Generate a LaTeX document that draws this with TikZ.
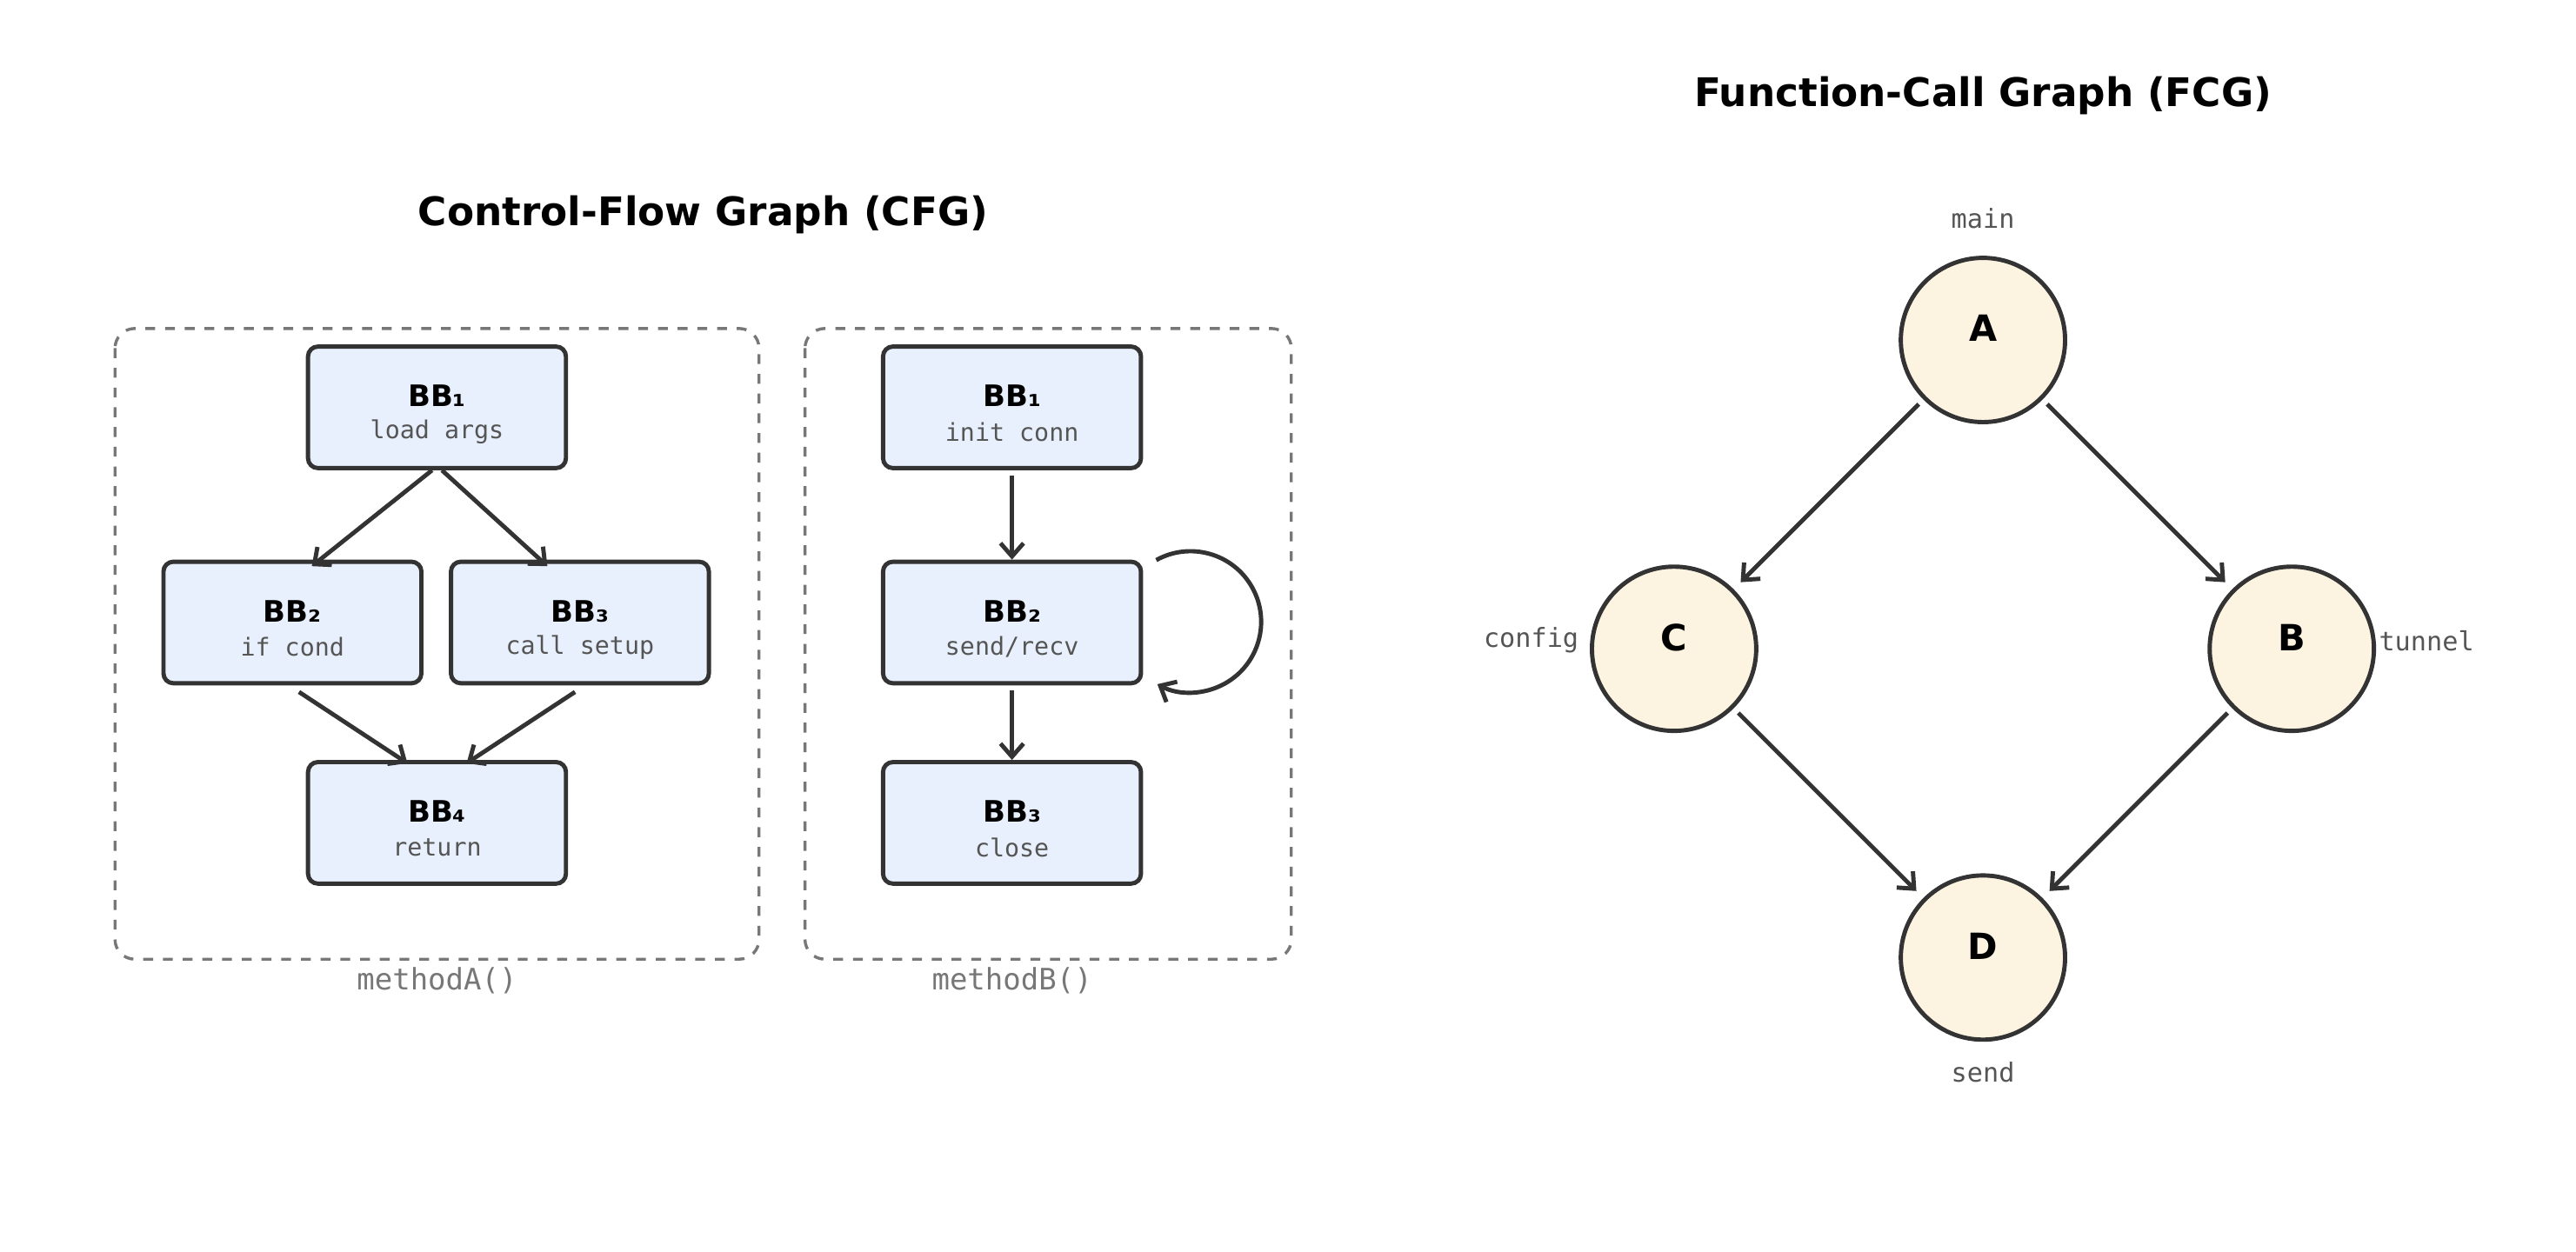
\documentclass[tikz,border=0pt]{standalone}
\usepackage{fontspec}
\setmainfont{DejaVu Sans}
\setmonofont{DejaVu Sans Mono}
\usetikzlibrary{arrows.meta}
\definecolor{bbfill}{HTML}{E8F0FD}
\definecolor{cfill}{HTML}{FDF3E1}
\definecolor{dk}{HTML}{333333}
\definecolor{gr}{HTML}{777777}
\definecolor{tx}{HTML}{555555}
\begin{document}
\begin{tikzpicture}[x=0.5pt,y=-0.5pt,
 bb/.style={draw=dk,line width=1.3pt,fill=bbfill,rounded corners=3pt,minimum width=78.5pt,minimum height=37pt,inner sep=0pt},
 grp/.style={draw=gr,line width=0.9pt,dashed,rounded corners=6pt},
 fn/.style={draw=dk,line width=1.3pt,fill=cfill,circle,minimum size=50pt,inner sep=0pt},
 arr/.style={draw=dk,line width=1.3pt,-{Straight Barb[length=4pt,width=7pt]}},
 ttl/.style={font=\bfseries\fontsize{12}{14}\selectfont},
 sub/.style={font=\ttfamily\fontsize{7.5}{9}\selectfont,text=tx},
 bbt/.style={font=\bfseries\fontsize{9}{11}\selectfont},
 lbl/.style={font=\ttfamily\fontsize{8}{10}\selectfont,text=tx},
 glbl/.style={font=\ttfamily\fontsize{9}{11}\selectfont,text=gr}]
\useasboundingbox (0,0) rectangle (1568,762);
\node[ttl] (t1) at (428,131) {Control-Flow Graph (CFG)};
\node[ttl] (t2) at (1207,58) {Function-Call Graph (FCG)};
\draw[grp] (70,200) rectangle (462,584);
\draw[grp] (490,200) rectangle (786,584);
\node[glbl] (ma) at (266,597) {methodA()};
\node[glbl] (mb) at (616,597) {methodB()};
\newcommand{\bbnode}[5]{\node[bb] (#1) at (#2,#3) {};
 \node[bbt] at (#2,#3-7) {#4};
 \node[sub] at (#2,#3+15) {#5};}
\bbnode{a1}{266}{248}{BB₁}{load args}
\bbnode{a2}{178}{379}{BB₂}{if cond}
\bbnode{a3}{353}{379}{BB₃}{call setup}
\bbnode{a4}{266}{501}{BB₄}{return}
\bbnode{b1}{616}{248}{BB₁}{init conn}
\bbnode{b2}{616}{379}{BB₂}{send/recv}
\bbnode{b3}{616}{501}{BB₃}{close}
\draw[arr] ([xshift=-1.5pt]a1.south) -- ([xshift=-34pt,yshift=-2pt]a2.north east);
\draw[arr] ([xshift=1.5pt]a1.south) -- ([xshift=30pt,yshift=-2pt]a3.north west);
\draw[arr] ([xshift=2pt,yshift=-2pt]a2.south) -- ([xshift=-9pt,yshift=-1pt]a4.north);
\draw[arr] ([xshift=-1.5pt,yshift=-2pt]a3.south) -- ([xshift=9pt,yshift=-1pt]a4.north);
\draw[arr] ([yshift=-1.5pt]b1.south) -- (b2.north);
\draw[arr] ([yshift=-1.5pt]b2.south) -- (b3.north);
\coordinate (ls) at ([xshift=4pt,yshift=19pt]b2.east);
\draw[arr] (ls) arc[start angle=119,end angle=-118,radius=21.5pt];
\node[fn] (A) at (1207,207) {};
\node[fn] (C) at (1019,395) {};
\node[fn] (B) at (1395,395) {};
\node[fn] (D) at (1207,583) {};
\foreach \n/\l in {A/A,B/B,C/C,D/D} \node[font=\bfseries\fontsize{11}{13}\selectfont] at ([yshift=3.5pt]\n.center) {\l};
\node[lbl] (lm) at (1207,133) {main};
\node[lbl] (lc) at (932,390) {config};
\node[lbl] (lt) at (1477,390) {tunnel};
\node[lbl] (ls2) at (1207,653) {send};
\draw[arr,shorten <=2pt,shorten >=3pt] (A) -- (C);
\draw[arr,shorten <=2pt,shorten >=3pt] (A) -- (B);
\draw[arr,shorten <=2pt,shorten >=3pt] (C) -- (D);
\draw[arr,shorten <=2pt,shorten >=3pt] (B) -- (D);
\end{tikzpicture}
\end{document}
